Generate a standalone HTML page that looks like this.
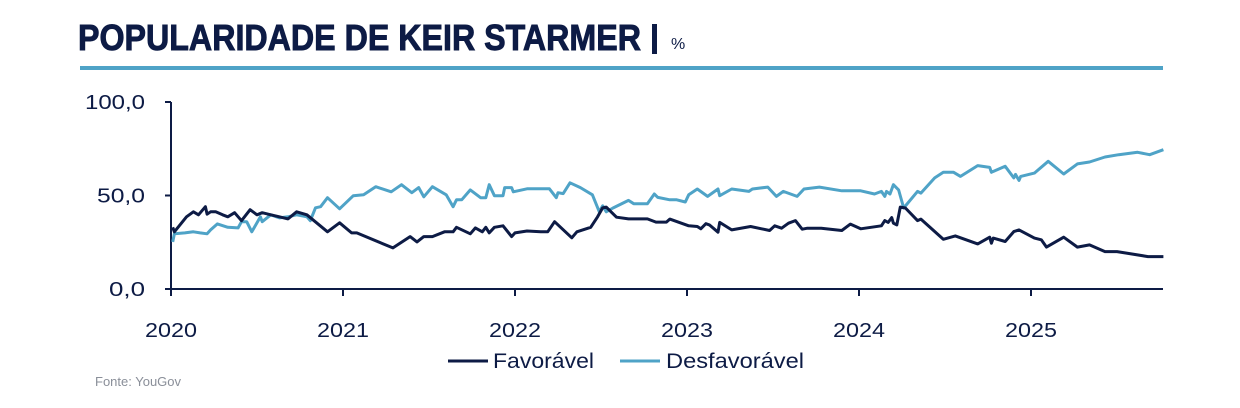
<!DOCTYPE html>
<html><head><meta charset="utf-8"><style>
html,body{margin:0;padding:0;background:#fff;}
svg{display:block;font-family:"Liberation Sans",sans-serif;}
</style></head><body>
<svg id="chart" width="1240" height="408" viewBox="0 0 1240 408">
  <text x="78" y="50" font-size="36" font-weight="bold" fill="#0d1b45" stroke="#0d1b45" stroke-width="0.9" textLength="563" lengthAdjust="spacingAndGlyphs">POPULARIDADE DE KEIR STARMER</text>
  <rect x="652" y="24" width="5" height="30" fill="#0d1b45"/>
  <text x="671" y="49" font-size="16" fill="#0d1b45">%</text>
  <rect x="80" y="66" width="1083" height="4" fill="#4fa3c7"/>
  <g id="axes"></g>
  <g id="series"></g>
  <g>
    <line x1="448" y1="361" x2="488" y2="361" stroke="#0d1b45" stroke-width="3"/>
    <text x="493" y="368" font-size="21" fill="#0d1b45" textLength="101" lengthAdjust="spacingAndGlyphs">Favorável</text>
    <line x1="620" y1="361" x2="660" y2="361" stroke="#4fa3c7" stroke-width="3"/>
    <text x="666" y="368" font-size="21" fill="#0d1b45" textLength="138" lengthAdjust="spacingAndGlyphs">Desfavorável</text>
  </g>
  <text x="95" y="386" font-size="13" fill="#8a8f99">Fonte: YouGov</text>
</svg>
<script>
const yTicks = [0, 50, 100];
const yTickLabels = ["0,0", "50,0", "100,0"];
const xTicks = [2020, 2021, 2022, 2023, 2024, 2025];
const favDates = [2020.01,2020.02,2020.09,2020.13,2020.16,2020.20,2020.21,2020.23,2020.26,2020.30,2020.33,2020.37,2020.41,2020.46,2020.50,2020.53,2020.58,2020.63,2020.68,2020.73,2020.79,2020.91,2020.98,2021.05,2021.08,2021.29,2021.39,2021.43,2021.47,2021.52,2021.59,2021.64,2021.66,2021.74,2021.77,2021.81,2021.83,2021.85,2021.88,2021.93,2021.98,2022.00,2022.07,2022.15,2022.19,2022.23,2022.33,2022.36,2022.44,2022.48,2022.51,2022.53,2022.59,2022.66,2022.77,2022.82,2022.88,2022.90,2023.01,2023.06,2023.08,2023.11,2023.13,2023.18,2023.19,2023.26,2023.37,2023.48,2023.51,2023.55,2023.59,2023.63,2023.67,2023.70,2023.78,2023.90,2023.95,2024.01,2024.13,2024.15,2024.17,2024.19,2024.20,2024.22,2024.24,2024.27,2024.34,2024.36,2024.49,2024.56,2024.69,2024.76,2024.77,2024.78,2024.85,2024.90,2024.93,2025.02,2025.06,2025.09,2025.19,2025.27,2025.34,2025.43,2025.50,2025.68,2025.77];
const favValues = [33,30.6,38.6,41.3,39.7,44,40,41.3,41.3,39.7,38.6,40.8,36.5,42.4,39.7,40.8,39.7,38.6,37.5,41.3,39.7,30.6,35.4,30,30,22,28,25.2,28,28,30.6,30.6,33,29.5,32.7,30.6,33,30,33,33.8,28,30,31,30.6,30.6,36,27.4,30.6,33,38.6,43.4,43.8,38.4,37.5,37.5,35.8,35.8,37.4,33.8,33.4,32.2,34.9,34.3,30.4,35.6,31.6,33.4,31.3,33.8,32.5,35.2,36.6,32,32.5,32.5,31.3,34.7,32.2,33.8,36.6,35.6,38.2,35.2,34.3,43.8,43.3,36.6,37.4,26.6,28.4,24.1,27.7,24.5,27.2,25.4,30.7,31.6,27.2,26.3,22.4,27.7,22.4,23.6,20,20,17.3,17.3];
const unfDates = [2020.01,2020.02,2020.08,2020.13,2020.17,2020.21,2020.23,2020.27,2020.33,2020.39,2020.41,2020.44,2020.47,2020.52,2020.53,2020.58,2020.63,2020.68,2020.73,2020.79,2020.81,2020.84,2020.87,2020.91,2020.98,2021.06,2021.12,2021.19,2021.28,2021.34,2021.40,2021.44,2021.47,2021.52,2021.60,2021.64,2021.66,2021.69,2021.74,2021.80,2021.83,2021.85,2021.88,2021.93,2021.94,2021.98,2021.99,2022.07,2022.20,2022.24,2022.25,2022.28,2022.32,2022.38,2022.45,2022.49,2022.51,2022.53,2022.57,2022.66,2022.69,2022.77,2022.81,2022.83,2022.90,2022.94,2022.99,2023.01,2023.06,2023.12,2023.18,2023.19,2023.26,2023.36,2023.38,2023.47,2023.52,2023.56,2023.64,2023.68,2023.77,2023.90,2024.01,2024.09,2024.13,2024.15,2024.16,2024.18,2024.20,2024.23,2024.26,2024.34,2024.36,2024.44,2024.49,2024.55,2024.59,2024.69,2024.76,2024.77,2024.85,2024.90,2024.91,2024.93,2024.94,2025.02,2025.10,2025.19,2025.27,2025.34,2025.43,2025.51,2025.62,2025.69,2025.77];
const unfValues = [25.2,29.5,30,30.6,30,29.5,31.6,34.8,33,32.7,36,36,30.6,38.6,36,39.7,38,38.6,39.7,38.6,36.5,43.4,44,48.8,42.9,49.9,50.4,54.7,52,55.8,51.5,54.2,49.3,54.7,50.4,44,47.7,47.7,53,48.8,48.8,55.8,49.9,49.9,54.2,54.2,52,53.6,53.6,48.8,51.5,51,56.8,54.2,50.4,41.3,44.5,41.3,43.3,47.4,45.6,45.6,50.8,49,47.7,47.7,46.5,50.4,53.5,49.5,53.5,49.9,53.5,52.2,53.5,54.5,49.5,52.2,49.5,53.5,54.5,52.5,52.5,50.8,52.2,49.5,52.2,50.8,55.8,53,43.3,52.2,51.3,59.4,62.4,62.4,60.2,66,65,62.4,65.6,59.4,61.3,58.1,60.2,62,68.3,61.5,66.9,67.9,70.6,71.8,73.1,71.8,74.5];

const NS = "http://www.w3.org/2000/svg";
const X0 = 171, X1 = 1163, Y0 = 289, Y100 = 102;
function xs(t){ return X0 + (t - 2020) * 172; }
function ys(v){ return Y0 - v * (Y0 - Y100) / 100; }
function mk(tag, attrs, parent){
  const e = document.createElementNS(NS, tag);
  for (const k in attrs) e.setAttribute(k, attrs[k]);
  parent.appendChild(e);
  return e;
}
const axes = document.getElementById('axes');
const yAxis = mk('line', {x1:X0, y1:Y100, x2:X0, y2:Y0, stroke:'#0d1b45', 'stroke-width':2}, axes);


const xAxis = mk('line', {x1:X0, y1:Y0, x2:X1, y2:Y0, stroke:'#0d1b45', 'stroke-width':2}, axes);


yTicks.forEach((v, i) => {
  const tk = mk('line', {x1:X0-6, y1:ys(v), x2:X0, y2:ys(v), stroke:'#0d1b45', 'stroke-width':2}, axes);
  
  
  const lbl = yTickLabels[i];
  const lb = mk('text', {x:145, y:ys(v)+7, 'font-size':20, fill:'#0d1b45', 'text-anchor':'end', textLength: lbl.length * 12, lengthAdjust:'spacingAndGlyphs'}, axes);
  lb.textContent = lbl;
  
  
});
xTicks.forEach(t => {
  const tk = mk('line', {x1:xs(t), y1:Y0, x2:xs(t), y2:Y0+7, stroke:'#0d1b45', 'stroke-width':2}, axes);
  
  
  const lb = mk('text', {x:xs(t), y:337, 'font-size':20, fill:'#0d1b45', 'text-anchor':'middle', textLength:52, lengthAdjust:'spacingAndGlyphs'}, axes);
  lb.textContent = String(t);
  
  
});
const series = document.getElementById('series');
function path(dates, vals){
  return dates.map((d, i) => (i ? 'L' : 'M') + xs(d).toFixed(1) + ',' + ys(vals[i]).toFixed(1)).join(' ');
}
const pUnf = mk('path', {d:path(unfDates, unfValues), fill:'none', stroke:'#4fa3c7', 'stroke-width':3, 'stroke-linejoin':'round'}, series);


const pFav = mk('path', {d:path(favDates, favValues), fill:'none', stroke:'#0d1b45', 'stroke-width':3, 'stroke-linejoin':'round'}, series);


</script>
</body></html>
